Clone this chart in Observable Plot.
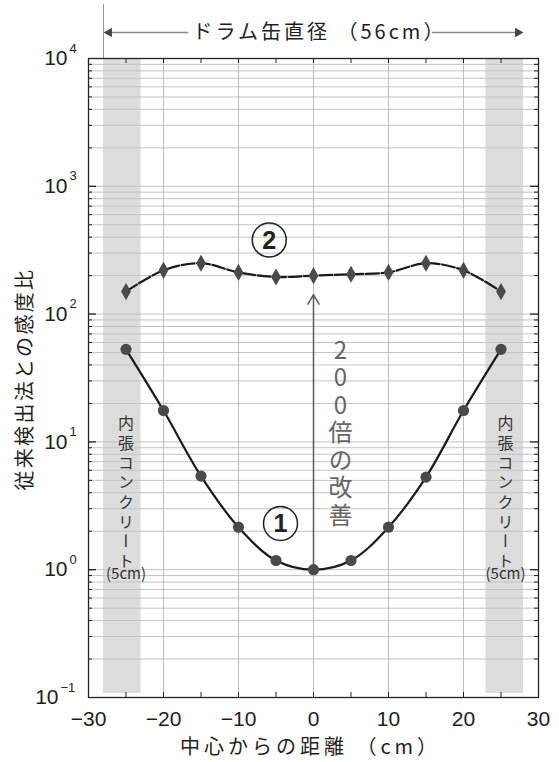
<!DOCTYPE html>
<html>
<head>
<meta charset="utf-8">
<script src="https://cdn.jsdelivr.net/npm/d3@7"></script>
<script src="https://cdn.jsdelivr.net/npm/@observablehq/plot@0.6"></script>
<style>
  body { margin: 0; background: #fff; }
  #chart svg { display: block; }
</style>
</head>
<body>
<div id="chart"></div>
<script>
// Distance from the drum centre (cm) at which each measurement was taken
const distance = [-25, -20, -15, -10, -5, 0, 5, 10, 15, 20, 25];
// Sensitivity ratio versus the conventional method, curve ①
const sensitivity1 = [53, 17.6, 5.4, 2.15, 1.18, 1.0, 1.18, 2.15, 5.3, 17.6, 53];
// Sensitivity ratio versus the conventional method, curve ②
const sensitivity2 = [150, 220, 250, 212, 195, 200, 205, 212, 250, 220, 150];

// Axis ticks
const xTickValues = [-30, -20, -10, 0, 10, 20, 30];
const xGridValues = [-20, -10, 0, 10, 20];
const xMinorTicks = [-25, -20, -15, -10, -5, 0, 5, 10, 15, 20, 25];
const yExponents = [-1, 0, 1, 2, 3, 4];

// Concrete lining (5 cm) inside a 56 cm drum
const drumRadius = 28;
const liningStart = [-28, 23];
const liningEnd = [-23, 28];

// Improvement arrow at the centre: from ① to ②
const improvementFrom = 1;
const improvementTo = 200;

// Annotation anchors (data coordinates)
const curveLabelX = [-4.4, -5.9];
const curveLabelY = [2.3, 380];
const curveLabelText = ["1", "2"];
const improvementLabelX = 3.6;
const improvementLabelY = 13.3;
const liningLabelX = [-25, 25.6];
const liningLabelY = 4.3;
const liningWidthLabelY = 0.93;
const yTitleY = 31;

const W = 559, H = 762;
const mL = 88, mR = 21, mT = 58, mB = 65;
const frameW = W - mL - mR;
const frameH = H - mT - mB;

const curve1 = distance.map((x, i) => ({x, y: sensitivity1[i]}));
const curve2 = distance.map((x, i) => ({x, y: sensitivity2[i]}));
const bands = liningStart.map((s, i) => ({x1: s, x2: liningEnd[i]}));
const yMinor = [];
for (const e of yExponents.slice(0, -1)) {
  for (let m = 2; m <= 9; m++) yMinor.push(m * 10 ** e);
}
const yInnerDecades = yExponents.slice(1, -1).map(e => 10 ** e);
const yGrid = yMinor.concat(yInnerDecades);
const labels = curveLabelX.map((x, i) => ({x, y: curveLabelY[i], t: curveLabelText[i]}));
const liningLabels = liningLabelX.map(x => ({x}));

const jp = "'Noto Sans CJK JP', 'Noto Sans', sans-serif";
const num = "'Liberation Sans', Arial, sans-serif";
const ink = "#1e1e1e";
const minus = s => String(s).replace("-", "\u2212");

const titleTop = "ドラム缶直径 （56cm）";
const titleX = "中心からの距離 （cm）";
const titleY = "従来検出法との感度比";
const improvementText = "200倍の改善";
const liningText = "内張コンクリート";

const chart = Plot.plot({
  width: W,
  height: H,
  marginLeft: mL,
  marginRight: mR,
  marginTop: mT,
  marginBottom: mB,
  style: {fontFamily: num, background: "#fff", color: ink},
  x: {domain: [-30, 30], axis: null},
  y: {type: "log", domain: [0.1, 1e4], axis: null},
  marks: [
    // concrete lining bands
    Plot.rect(bands, {x1: "x1", x2: "x2", fill: "#dcdcdc", insetBottom: 4}),
    // grid
    Plot.ruleY(yGrid, {stroke: "#c3c3c3", strokeWidth: 1}),
    Plot.ruleX(xGridValues, {stroke: "#bdbdbd", strokeWidth: 1}),
    Plot.frame({stroke: "#222", strokeWidth: 1.3}),
    // inward ticks on all four sides
    Plot.tickX(xMinorTicks, {x: d => d, insetTop: frameH - 5, stroke: "#222"}),
    Plot.tickX(xMinorTicks, {x: d => d, insetBottom: frameH - 5, stroke: "#222"}),
    Plot.tickY(yMinor, {y: d => d, insetRight: frameW - 4, stroke: "#222"}),
    Plot.tickY(yMinor, {y: d => d, insetLeft: frameW - 4, stroke: "#222"}),
    Plot.tickY(yInnerDecades, {y: d => d, insetRight: frameW - 8, stroke: "#222", strokeWidth: 1.3}),
    Plot.tickY(yInnerDecades, {y: d => d, insetLeft: frameW - 8, stroke: "#222", strokeWidth: 1.3}),

    // drum diameter header
    Plot.ruleX([-drumRadius], {y1: 1e4, y2: 1e4, insetTop: -54, stroke: "#9a9a9a", strokeWidth: 1}),
    Plot.link([{a: -16.7, b: -drumRadius + 0.8}, {a: 15.8, b: drumRadius - 0.8}],
      {x1: "a", x2: "b", y1: () => 1e4, y2: () => 1e4, dy: -26, stroke: "#8a8a8a", strokeWidth: 1.3}),
    Plot.dot([{x: -drumRadius + 0.75, r: -90}, {x: drumRadius - 0.75, r: 90}],
      {x: "x", y: () => 1e4, dy: -26, symbol: "triangle", rotate: "r", r: 3.6, fill: "#444", stroke: "none"}),
    Plot.text([titleTop], {x: () => 0.8, frameAnchor: "top", lineAnchor: "middle", dy: -26,
      fontFamily: jp, fontSize: 20, fill: ink}),

    // improvement arrow and its label
    Plot.arrow([{x: 0}], {x1: "x", x2: "x", y1: () => improvementFrom, y2: () => improvementTo,
      insetEnd: 19, stroke: "#5a5a5a", strokeWidth: 1.5, headLength: 11}),
    Plot.text([improvementText], {x: () => improvementLabelX, y: () => improvementLabelY,
      fontFamily: jp, fontSize: 24, fill: "#666"}),

    // curves
    Plot.line(curve2, {x: "x", y: "y", curve: "catmull-rom", stroke: "#1a1a1a", strokeWidth: 2.2,
      strokeDasharray: "13,2.5"}),
    Plot.dot(curve2, {x: "x", y: "y", symbol: "diamond", r: 5.2, fill: "#4a4a4a", stroke: "none"}),
    Plot.line(curve1, {x: "x", y: "y", curve: "catmull-rom", stroke: "#1a1a1a", strokeWidth: 2.2}),
    Plot.dot(curve1, {x: "x", y: "y", r: 5.6, fill: "#4a4a4a", stroke: "none"}),

    // circled curve numbers
    Plot.dot(labels, {x: "x", y: "y", r: 17, stroke: "#222", strokeWidth: 1.5, fill: "none"}),
    Plot.text(labels, {x: "x", y: "y", text: "t", fontSize: 25, fontWeight: "bold", fill: "#222", dy: 1}),

    // lining labels
    Plot.text(liningLabels, {x: "x", y: () => liningLabelY, text: () => liningText,
      fontFamily: jp, fontSize: 16, fill: "#333"}),
    Plot.text(liningLabels, {x: "x", y: () => liningWidthLabelY, text: () => "(5cm)",
      fontFamily: jp, fontSize: 15, fill: "#333"}),

    // x tick labels and title
    Plot.text(xTickValues, {x: d => d, frameAnchor: "bottom", lineAnchor: "middle", dy: 21.5,
      text: d => minus(d), fontSize: 21, fill: ink}),
    Plot.text([titleX], {frameAnchor: "bottom", lineAnchor: "middle", dy: 50, dx: -3,
      fontFamily: jp, fontSize: 20, fill: ink}),

    // y tick labels as 10 with a raised exponent
    Plot.text(yExponents.filter(e => e >= 0), {y: e => 10 ** e, frameAnchor: "left", dx: -21,
      textAnchor: "end", text: () => "10", fontSize: 21, fill: ink}),
    Plot.text(yExponents.filter(e => e >= 0), {y: e => 10 ** e, frameAnchor: "left", dx: -19, dy: -10,
      textAnchor: "start", text: e => minus(e), fontSize: 13, fill: ink}),
    Plot.text(yExponents.filter(e => e < 0), {y: e => 10 ** e, frameAnchor: "left", dx: -30,
      textAnchor: "end", text: () => "10", fontSize: 21, fill: ink}),
    Plot.text(yExponents.filter(e => e < 0), {y: e => 10 ** e, frameAnchor: "left", dx: -28, dy: -10,
      textAnchor: "start", text: e => minus(e), fontSize: 13, fill: ink}),
    Plot.text([titleY], {x: () => -30, y: () => yTitleY, dx: -63, rotate: -90,
      fontFamily: jp, fontSize: 20, fill: ink})
  ]
});

// letter spacing for the titles, upright vertical setting for the stacked labels
d3.select(chart).selectAll("text").each(function () {
  const t = this.textContent;
  const s = d3.select(this);
  if (t === titleTop) s.attr("letter-spacing", 3);
  if (t === titleX) s.attr("letter-spacing", 4);
  if (t === titleY) s.attr("letter-spacing", 2.3);
  if (t === improvementText || t === liningText) {
    s.attr("dy", null)
      .style("writing-mode", "vertical-rl")
      .style("text-orientation", "upright")
      .attr("letter-spacing", t === liningText ? 3.7 : 3.5);
    s.selectAll("tspan").attr("dy", null);
  }
});

document.getElementById("chart").append(chart);
</script>
</body>
</html>
